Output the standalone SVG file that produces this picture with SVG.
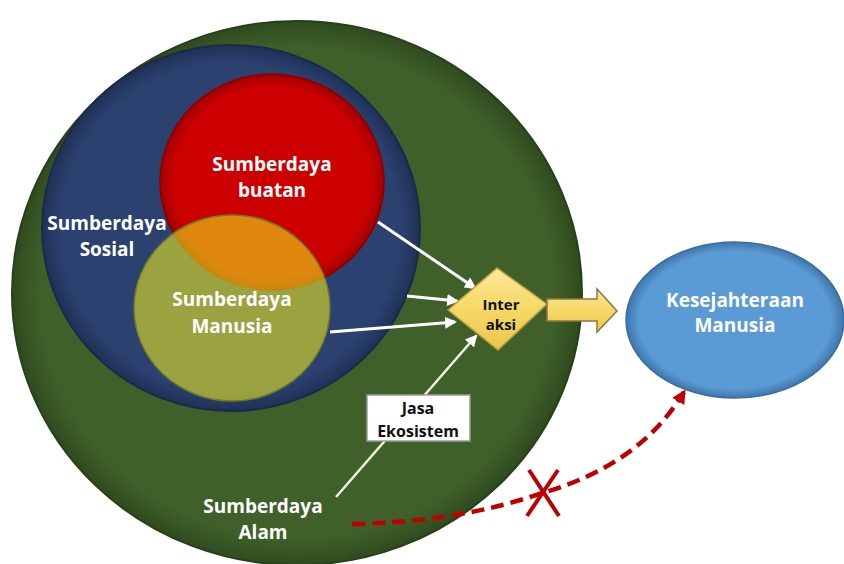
<svg xmlns="http://www.w3.org/2000/svg" width="844" height="564" viewBox="0 0 844 564">
<defs>
<radialGradient id="gGreen" cx="0.5" cy="0.5" r="0.5">
<stop offset="0.9" stop-color="#3f6129"/><stop offset="1" stop-color="#2f4b1f"/>
</radialGradient>
<radialGradient id="gBlue" cx="0.5" cy="0.5" r="0.5">
<stop offset="0.9" stop-color="#2b4170"/><stop offset="1" stop-color="#1f3156"/>
</radialGradient>
<radialGradient id="gRed" cx="0.5" cy="0.5" r="0.5">
<stop offset="0.88" stop-color="#cc0000"/><stop offset="1" stop-color="#a00000"/>
</radialGradient>
<radialGradient id="gSky" cx="0.5" cy="0.5" r="0.5">
<stop offset="0.88" stop-color="#5b9bd5"/><stop offset="1" stop-color="#3e76ab"/>
</radialGradient>
<linearGradient id="gYellow" x1="0" y1="0" x2="0" y2="1">
<stop offset="0" stop-color="#fbe79a"/><stop offset="0.5" stop-color="#f6d865"/><stop offset="1" stop-color="#e9c650"/>
</linearGradient>
<marker id="mWhiteL" markerWidth="12" markerHeight="12" refX="10" refY="6" orient="auto" markerUnits="userSpaceOnUse" viewBox="0 0 12 12">
<path d="M0,0 L12,6 L0,12 Z" fill="#ffffff"/>
</marker>
<marker id="mRed" markerWidth="14" markerHeight="14" refX="11" refY="7" orient="auto" markerUnits="userSpaceOnUse" viewBox="0 0 14 14">
<path d="M0,0 L14,7 L0,14 Z" fill="#c00000"/>
</marker>
<style>
.lbl{font-family:"Open Sans","Liberation Sans",sans-serif;font-weight:bold;font-size:19px;text-anchor:middle;fill:#ffffff}
.blk{font-family:"Open Sans","Liberation Sans",sans-serif;font-weight:bold;font-size:16px;text-anchor:middle;fill:#111111}
.wa{stroke:#ffffff;stroke-width:3;fill:none;marker-end:url(#mWhiteL)}
</style>
</defs>
<g id="alam">
<ellipse cx="297" cy="293" rx="285" ry="272" fill="url(#gGreen)" stroke="#27401a" stroke-width="2"/>
</g>
<g id="sosial">
<ellipse cx="231" cy="228" rx="189" ry="183" fill="url(#gBlue)" stroke="#1a2a4a" stroke-width="2"/>
</g>
<g id="buatan">
<ellipse cx="272" cy="182" rx="112" ry="108" fill="url(#gRed)" stroke="#8a0000" stroke-width="1.5"/>
</g>
<g id="manusia">
<ellipse cx="232" cy="308" rx="98" ry="93" fill="#efed1a" fill-opacity="0.57" stroke="#6f7a2a" stroke-width="1.5"/>
</g>
<g id="connectors">
<line class="wa" x1="378" y1="222" x2="475" y2="288"/>
<line class="wa" x1="407" y1="296" x2="457" y2="301"/>
<line class="wa" x1="330" y1="332" x2="455" y2="322"/>
<line x1="336" y1="497" x2="476" y2="336" stroke="#f4f4e4" stroke-width="2.5" marker-end="url(#mWhiteL)"/>
<path d="M352,524 Q460,522 542,493 Q640,465 684,392" fill="none" stroke="#c00000" stroke-width="4.5" stroke-dasharray="13,7" marker-end="url(#mRed)"/>
<line x1="529" y1="470" x2="559" y2="516" stroke="#c00000" stroke-width="4"/>
<line x1="558" y1="470" x2="527" y2="516" stroke="#c00000" stroke-width="4"/>
</g>
<g id="interaksi">
<path d="M448,310 L497,268 L547,304 L498,350 Z" fill="url(#gYellow)" stroke="#b89a3c" stroke-width="1.5"/>
<text class="blk" x="501" y="310" style="font-size:15px">Inter</text>
<text class="blk" x="501" y="330" style="font-size:15px">aksi</text>
</g>
<g id="panah">
<path d="M547,299 L597,299 L597,289 L617,311 L597,332 L597,321 L547,321 Z" fill="url(#gYellow)" stroke="#8a7a40" stroke-width="1.5"/>
</g>
<g id="jasa">
<rect x="367" y="395" width="103" height="46" fill="#ffffff" stroke="#9a9a9a" stroke-width="1.5"/>
<text class="blk" x="418" y="414">Jasa</text>
<text class="blk" x="418" y="437">Ekosistem</text>
</g>
<g id="kesejahteraan">
<ellipse cx="735" cy="320" rx="109" ry="78" fill="url(#gSky)" stroke="#3b6e9e" stroke-width="1.5"/>
<text class="lbl" x="735" y="307" fill="#eef4fc">Kesejahteraan</text>
<text class="lbl" x="735" y="332" fill="#eef4fc">Manusia</text>
</g>
<g id="labels">
<text class="lbl" x="272" y="171">Sumberdaya</text>
<text class="lbl" x="272" y="197">buatan</text>
<text class="lbl" x="107" y="230">Sumberdaya</text>
<text class="lbl" x="107" y="256">Sosial</text>
<text class="lbl" x="232" y="306">Sumberdaya</text>
<text class="lbl" x="232" y="333">Manusia</text>
<text class="lbl" x="263" y="513">Sumberdaya</text>
<text class="lbl" x="263" y="539">Alam</text>
</g>
</svg>
